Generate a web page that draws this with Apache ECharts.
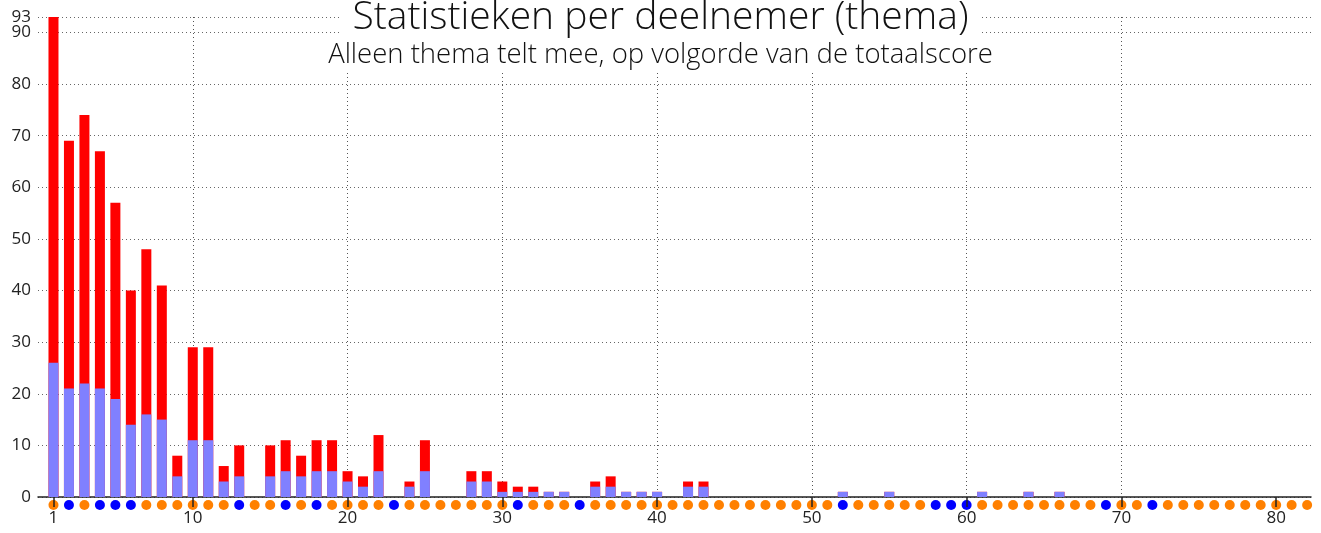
<!DOCTYPE html>
<html><head><meta charset="utf-8">
<script src="https://cdn.jsdelivr.net/npm/echarts@6/dist/echarts.min.js"></script>
<style>html,body{margin:0;padding:0;background:#fff}#c{width:1321px;height:533px}</style>
</head><body><div id="c"></div>
<script>
// rank of each participant (ordered by total score)
const ranks = [1,2,3,4,5,6,7,8,9,10,11,12,13,14,15,16,17,18,19,20,
  21,22,23,24,25,26,27,28,29,30,31,32,33,34,35,36,37,38,39,40,
  41,42,43,44,45,46,47,48,49,50,51,52,53,54,55,56,57,58,59,60,
  61,62,63,64,65,66,67,68,69,70,71,72,73,74,75,76,77,78,79,80,81,82];
// lower (blue) part of each bar
const blueValues = [26,21,22,21,19,14,16,15,4,11,
  11,3,4,0,4,5,4,5,5,3,
  2,5,0,2,5,0,0,3,3,1,
  1,1,1,1,0,2,2,1,1,1,
  0,2,2,0,0,0,0,0,0,0,
  0,1,0,0,1,0,0,0,0,0,
  1,0,0,1,0,1,0,0,0,0,
  0,0,0,0,0,0,0,0,0,0,0,0];
// full bar height (top of red part)
const totalValues = [93,69,74,67,57,40,48,41,8,29,
  29,6,10,0,10,11,8,11,11,5,
  4,12,0,3,11,0,0,5,5,3,
  2,2,1,1,0,3,4,1,1,1,
  0,3,3,0,0,0,0,0,0,0,
  0,1,0,0,1,0,0,0,0,0,
  1,0,0,1,0,1,0,0,0,0,
  0,0,0,0,0,0,0,0,0,0,0,0];
// group marker for each participant (O = orange dot, B = blue dot)
const dotGroups = ['O','B','O','B','B','B','O','O','O','O',
  'O','O','B','O','O','B','O','B','O','O',
  'O','O','B','O','O','O','O','O','O','O',
  'B','O','O','O','B','O','O','O','O','O',
  'O','O','O','O','O','O','O','O','O','O',
  'O','B','O','O','O','O','O','B','B','B',
  'O','O','O','O','O','O','O','O','B','O',
  'O','B','O','O','O','O','O','O','O','O','O','O'];
const xTickLabels = [1,10,20,30,40,50,60,70,80];
const yTickLabels = [0,10,20,30,40,50,60,70,80,90];
const yMaxLabel = [93];

const FONT = '"Open Sans", Lato, sans-serif';
const groupColor = {O:'#ff8000', B:'#0000ff'};
const DOT_Y = -1.55;
const Y_MAX = 93;

const chart = echarts.init(document.getElementById('c'), null, {renderer:'canvas'});
const yLabelStyle = {fontFamily:FONT, fontSize:17, color:'#222', margin:7};
const option = {
  animation: false,
  backgroundColor: '#fff',
  title: [
    {text:'Statistieken per deelnemer (thema)', left:'center', top:-4,
     padding:[2,12,2,12], backgroundColor:'#fff',
     textStyle:{fontFamily:FONT, fontWeight:300, fontSize:39, color:'#111'}},
    {text:'Alleen thema telt mee, op volgorde van de totaalscore', left:'center', top:39,
     padding:[2,6,4,6], backgroundColor:'#fff',
     textStyle:{fontFamily:FONT, fontWeight:300, fontSize:27.5, color:'#111'}}
  ],
  grid: {left:38, right:10, top:17, bottom:36},
  xAxis: {
    type:'value', min:0, max:82.25, interval:10,
    axisLine:{lineStyle:{color:'#222', width:1.5}},
    axisTick:{customValues:xTickLabels, length:10, lineStyle:{color:'#222', width:1.5}},
    axisLabel:{customValues:xTickLabels, fontFamily:FONT, fontSize:17, color:'#222', margin:13},
    splitLine:{show:true, showMinLine:false, showMaxLine:false,
      lineStyle:{type:[1,3], color:'#555', width:1}}
  },
  yAxis: [
    {
      type:'value', min:0, max:Y_MAX, interval:10,
      axisLine:{show:false}, axisTick:{show:false},
      axisLabel:Object.assign({customValues:yTickLabels}, yLabelStyle),
      splitLine:{show:true, lineStyle:{type:[1,3], color:'#666', width:1}}
    },
    {
      type:'value', min:0, max:Y_MAX, position:'left',
      axisLine:{show:false}, axisTick:{show:false},
      axisLabel:Object.assign({customValues:yMaxLabel}, yLabelStyle),
      splitLine:{show:false}
    }
  ],
  series: [
    {type:'bar', barWidth:10, itemStyle:{color:'#ff0000'},
     data: ranks.map((r,i)=>[r, totalValues[i]])},
    {type:'bar', barWidth:10, barGap:'-100%', itemStyle:{color:'#8080ff'},
     data: ranks.map((r,i)=>[r, blueValues[i]])},
    {type:'scatter', symbolSize:10, clip:false, z:-1,
     data: ranks.map((r,i)=>({value:[r, DOT_Y], itemStyle:{color:groupColor[dotGroups[i]], opacity:1}}))}
  ]
};
chart.setOption(option);
</script></body></html>
